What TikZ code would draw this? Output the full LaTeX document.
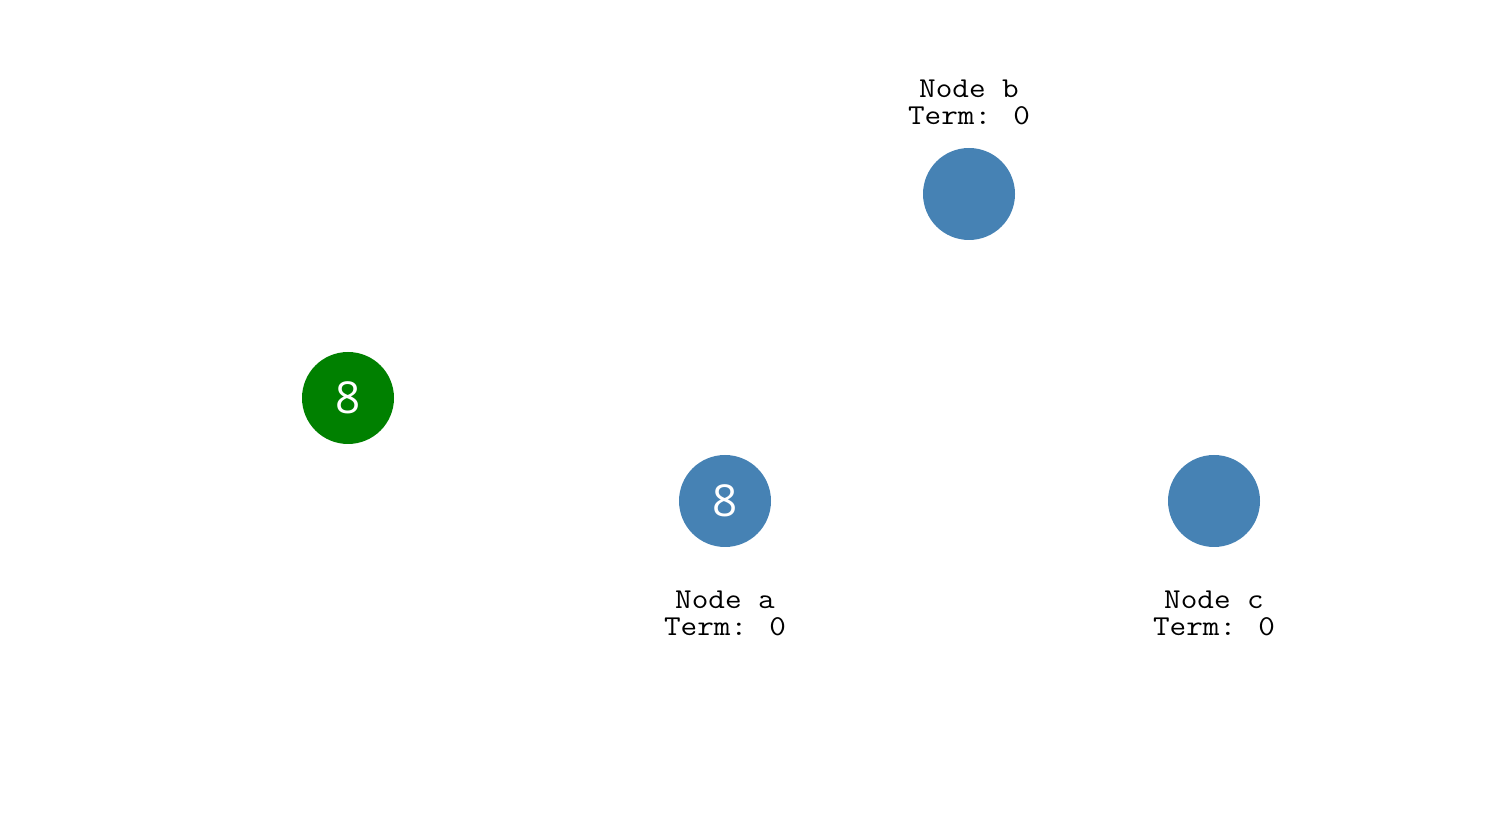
\documentclass[tikz,border=0pt]{standalone}
\usepackage{fontspec}
\setmainfont{Open Sans}
\newfontfamily\termfont{Latin Modern Mono}[FakeStretch=1.12]
\definecolor{steelblue}{HTML}{4682B4}
\definecolor{termgreen}{HTML}{008000}
\tikzset{
  vertex/.style={circle, fill=steelblue, minimum size=92pt, inner sep=0pt,
    text=white, font=\fontsize{44}{44}\selectfont},
  source/.style={vertex, fill=termgreen},
  caption/.style={align=center, anchor=base, inner sep=0pt,
    font=\termfont\fontsize{28.8}{27.5}\selectfont}
}
\begin{document}
\begin{tikzpicture}[x=1pt,y=1pt]
      \useasboundingbox (0,0) rectangle (1504,840);
      \draw
        (348,442) node[source] (s){8}
        (725,339) node[vertex] (a){8}
        (969,646) node[vertex] (b){}
        (1214,339) node[vertex] (c){};
      \draw
        (725,204) node[caption] (atext){Node a\\Term: 0}
        (969,715) node[caption] (btext){Node b\\Term: 0}
        (1214,204) node[caption] (ctext){Node c\\Term: 0};
    \end{tikzpicture}
\end{document}
